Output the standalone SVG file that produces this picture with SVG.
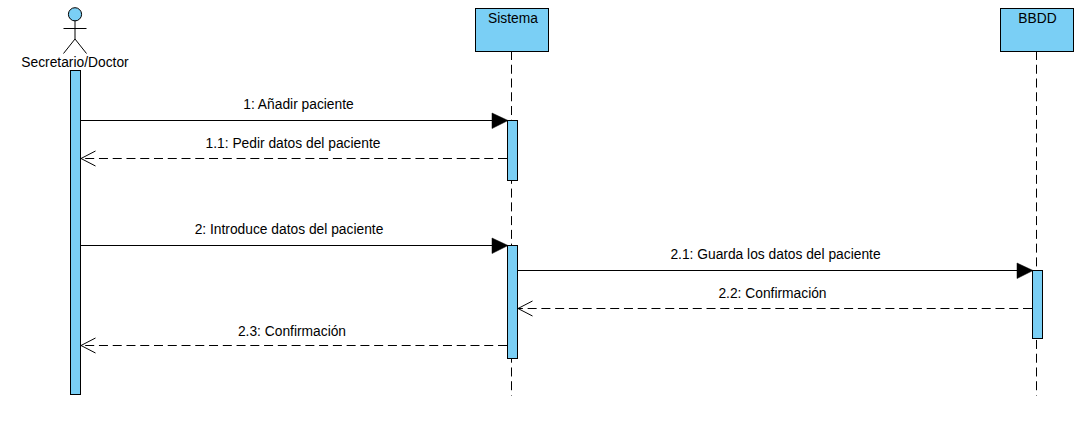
<svg xmlns="http://www.w3.org/2000/svg" width="1081" height="421" viewBox="0 0 1081 421">
<style>
text{font-family:"Liberation Sans",Arial,sans-serif;font-size:13.8px;fill:#000;text-anchor:middle}
.box{fill:#7acff5;stroke:#000;stroke-width:1}
.life{fill:none;stroke:#000;stroke-width:1;stroke-dasharray:9 4.76}
.msg{fill:none;stroke:#000;stroke-width:1}
.ret{fill:none;stroke:#000;stroke-width:1;stroke-dasharray:9 4.76}
.open{fill:none;stroke:#000;stroke-width:1}
.solid{fill:#000;stroke:#000;stroke-width:0.5}
.fig{fill:none;stroke:#000;stroke-width:1}
</style>
<rect width="1081" height="421" fill="#fff"/>
<g id="lifelines">
<path class="life" d="M511.500 51V395.500"/>
<path class="life" d="M1036.500 51V395.500"/>
</g>
<g id="actor">
<circle class="box" cx="75" cy="14.300" r="6.600"/>
<path class="fig" d="M75 20.500V39M63.500 28.500H86.500M63.500 53.500L75 39L86.500 53.500"/>
<text x="75" y="67">Secretario/Doctor</text>
<rect class="box" x="70.500" y="70.500" width="10" height="324"/>
</g>
<g id="sistema">
<rect class="box" x="475.500" y="8.500" width="73" height="43"/>
<text x="513" y="23">Sistema</text>
<rect class="box" x="507.500" y="120.500" width="10" height="60"/>
<rect class="box" x="507.500" y="245.500" width="10" height="113"/>
</g>
<g id="bbdd">
<rect class="box" x="1000.500" y="8.500" width="73" height="43"/>
<text x="1037.500" y="23">BBDD</text>
<rect class="box" x="1032.500" y="270.500" width="10" height="68"/>
</g>
<g id="connectors">
<path class="msg" d="M80.500 120.500H492"/>
<path class="solid" d="M492 113L508 120.500L492 128.500Z"/>
<path class="ret" d="M507 158.500H81"/>
<path class="open" d="M95.500 151L81 158.500L95.500 166"/>
<path class="msg" d="M80.500 245.500H492"/>
<path class="solid" d="M492 238L508 245.500L492 253.500Z"/>
<path class="msg" d="M517.500 270.500H1017"/>
<path class="solid" d="M1017 263L1033 270.500L1017 278.500Z"/>
<path class="ret" d="M1032 308.500H518"/>
<path class="open" d="M532.500 301L518 308.500L532.500 316"/>
<path class="ret" d="M507 345.500H81"/>
<path class="open" d="M95.500 338L81 345.500L95.500 353"/>
</g>
<g id="labels">
<text x="298.500" y="109">1: Añadir paciente</text>
<text x="293" y="148">1.1: Pedir datos del paciente</text>
<text x="289" y="234">2: Introduce datos del paciente</text>
<text x="775.500" y="259">2.1: Guarda los datos del paciente</text>
<text x="772.500" y="298">2.2: Confirmación</text>
<text x="292" y="336">2.3: Confirmación</text>
</g>
</svg>
